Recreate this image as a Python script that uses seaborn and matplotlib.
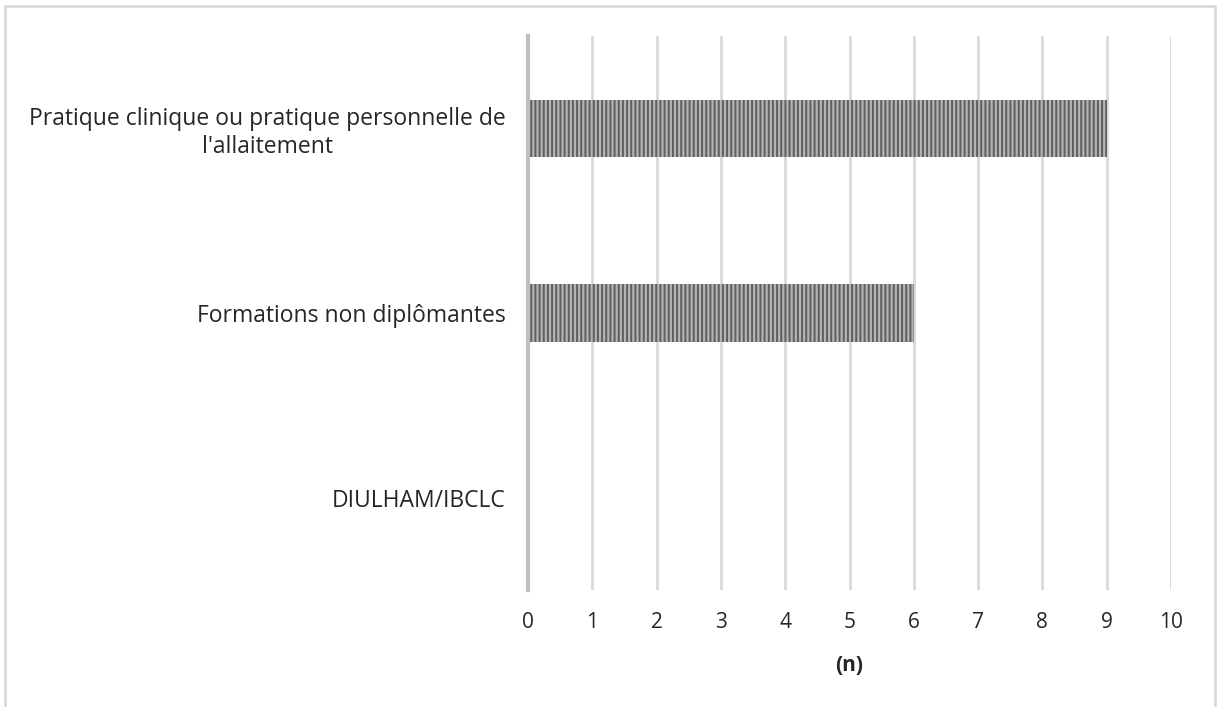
import matplotlib
matplotlib.use("Agg")
import matplotlib.pyplot as plt
import seaborn as sns
import pandas as pd
from matplotlib.patches import Rectangle

# Sources of breastfeeding knowledge (count of respondents)
categories = [
    "Pratique clinique ou pratique personnelle de\nl'allaitement",
    "Formations non diplômantes",
    "DIULHAM/IBCLC",
]
counts = [9, 6, 0]
x_ticks = list(range(0, 11))
x_label = "(n)"

sns.set_theme(style="white")
plt.rcParams["font.family"] = ["Open Sans", "DejaVu Sans"]
plt.rcParams["hatch.linewidth"] = 1.4

df = pd.DataFrame({"source": categories, "n": counts})

fig = plt.figure(figsize=(12.17, 7.07), dpi=100)
ax = fig.add_axes([528 / 1217, 1 - 590 / 707, (1171 - 528) / 1217, (590 - 36) / 707])

sns.barplot(data=df, x="n", y="source", orient="h", ax=ax, width=0.31,
            color="#b4b4b4", saturation=1)
for bar in ax.patches:
    bar.set_hatch("||||")
    bar.set_edgecolor("#5e5e5e")
    bar.set_linewidth(0)

ax.set_xlim(0, 10)
ax.set_ylim(2.5, -0.5)
ax.set_xticks(x_ticks)
ax.grid(axis="x", color="#d9d9d9", linewidth=2)
ax.set_axisbelow(True)
for side in ["top", "right", "bottom"]:
    ax.spines[side].set_visible(False)
ax.spines["left"].set_color("#bfbfbf")
ax.spines["left"].set_linewidth(3)
ax.spines["left"].set_zorder(5)

ax.tick_params(axis="x", length=0, pad=16, labelsize=15, labelcolor="#262626")
ax.tick_params(axis="y", length=0, pad=16, labelsize=16.5, labelcolor="#262626")
for lab in ax.get_yticklabels():
    lab.set_multialignment("center")
ax.set_ylabel("")
ax.set_xlabel(x_label, fontsize=15, fontweight="bold", color="#262626", labelpad=16)

# Chart area frame
fig.patches.append(Rectangle((5 / 1217, -0.05), (1215 - 5) / 1217, 1.05 - 6 / 707,
                             transform=fig.transFigure, fill=False,
                             edgecolor="#d9d9d9", linewidth=2))

fig.savefig("out.png", dpi=100, facecolor="white")
